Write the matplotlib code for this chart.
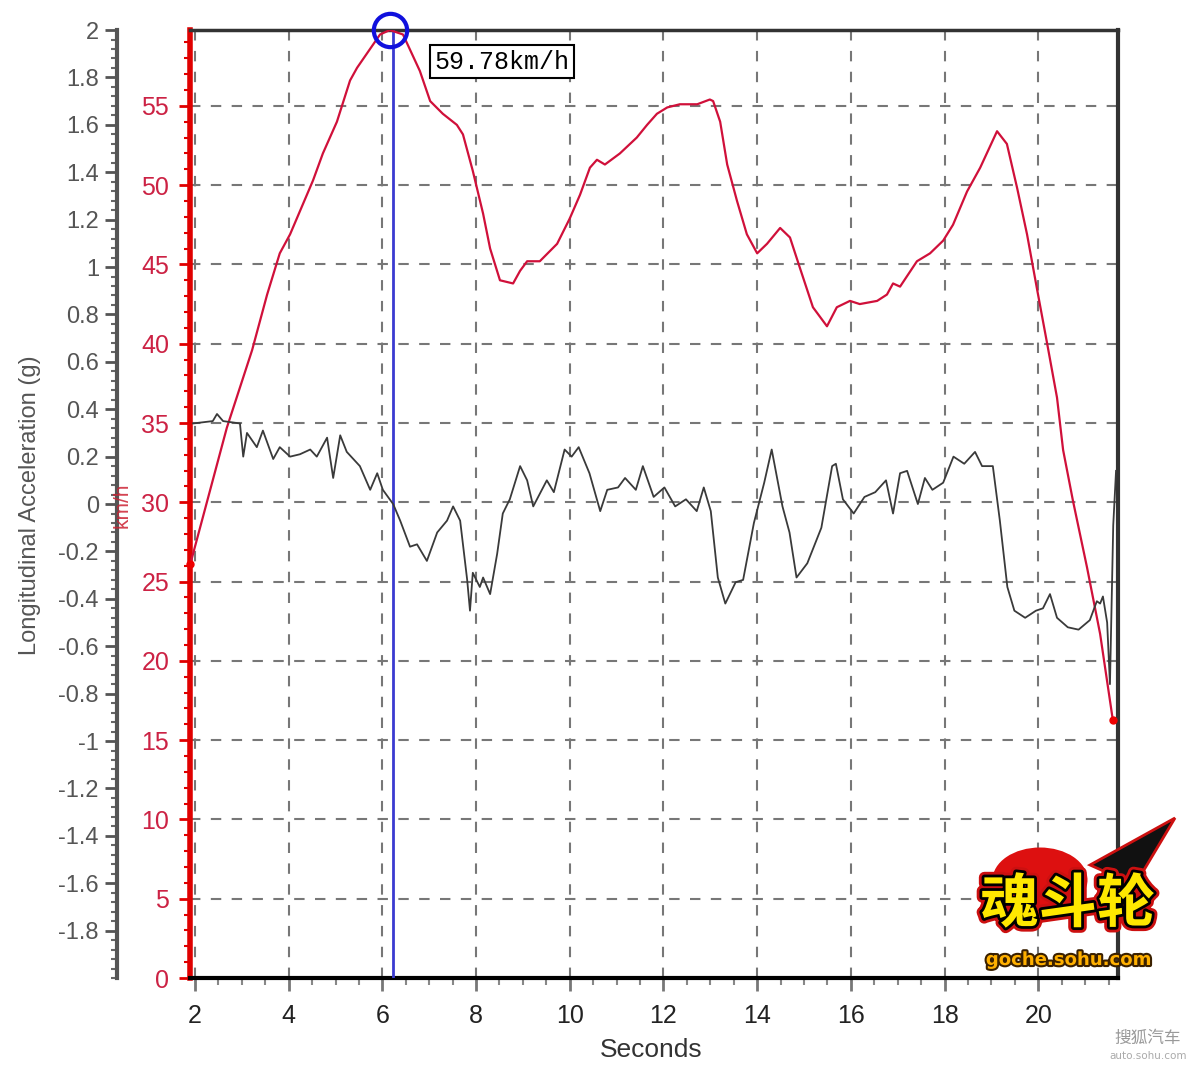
import numpy as np
import matplotlib
matplotlib.use("Agg")
import matplotlib.pyplot as plt
import matplotlib.patheffects as pe
from matplotlib.ticker import MultipleLocator, FixedLocator, FuncFormatter
from matplotlib.patches import Ellipse, Polygon

plt.rcParams['font.family'] = ['Liberation Sans', 'DejaVu Sans']
plt.rcParams['axes.unicode_minus'] = False

# speed trace (km/h)
speed_t = [1.90, 2.68, 3.22, 3.54, 3.81, 4.03, 4.52, 4.73, 5.03, 5.31,
           5.46, 5.74, 5.95, 6.16, 6.44, 6.80, 7.02, 7.29, 7.59, 7.72,
           7.93, 8.15, 8.30, 8.51, 8.79, 8.94, 9.09, 9.36, 9.73, 10.00,
           10.22, 10.43, 10.58, 10.75, 11.07, 11.43, 11.65, 11.86, 12.08, 12.35,
           12.72, 12.99, 13.06, 13.21, 13.36, 13.57, 13.78, 14.00, 14.21, 14.49,
           14.70, 14.91, 15.19, 15.49, 15.70, 15.98, 16.19, 16.56, 16.77, 16.90,
           17.05, 17.41, 17.69, 17.97, 18.18, 18.48, 18.76, 19.12, 19.33, 19.55,
           19.76, 19.97, 20.19, 20.40, 20.53, 20.74, 21.04, 21.32, 21.59]
speed_kmh = [26.1, 34.7, 39.6, 43.1, 45.7, 46.9, 50.3, 52.0, 54.0, 56.6,
             57.4, 58.6, 59.5, 59.78, 59.5, 57.2, 55.3, 54.5, 53.8, 53.2,
             50.9, 48.2, 46.0, 44.0, 43.8, 44.6, 45.2, 45.2, 46.3, 47.9,
             49.4, 51.1, 51.6, 51.3, 52.0, 53.0, 53.8, 54.5, 54.9, 55.1,
             55.1, 55.4, 55.3, 54.0, 51.3, 49.0, 46.9, 45.7, 46.3, 47.3,
             46.7, 44.8, 42.3, 41.1, 42.3, 42.7, 42.5, 42.7, 43.1, 43.8,
             43.6, 45.2, 45.7, 46.5, 47.5, 49.6, 51.1, 53.4, 52.6, 49.8,
             46.9, 43.5, 40.0, 36.6, 33.3, 30.1, 25.9, 21.7, 16.3]

# longitudinal acceleration (g), black trace
accel_t = [1.96, 2.38, 2.47, 2.60, 2.96, 3.03, 3.11, 3.32, 3.45, 3.67,
           3.81, 4.03, 4.24, 4.46, 4.60, 4.82, 4.95, 5.10, 5.24, 5.52,
           5.74, 5.89, 6.01, 6.23, 6.38, 6.59, 6.74, 6.95, 7.17, 7.38,
           7.51, 7.66, 7.81, 7.87, 7.93, 8.08, 8.15, 8.30, 8.45, 8.57,
           8.72, 8.94, 9.09, 9.22, 9.51, 9.66, 9.89, 10.04, 10.19, 10.42,
           10.65, 10.80, 11.03, 11.18, 11.41, 11.56, 11.79, 12.02, 12.25, 12.48,
           12.71, 12.86, 13.01, 13.16, 13.32, 13.54, 13.70, 13.93, 14.15, 14.31,
           14.54, 14.69, 14.84, 15.07, 15.37, 15.60, 15.68, 15.83, 16.06, 16.29,
           16.52, 16.75, 16.90, 17.05, 17.20, 17.43, 17.58, 17.74, 17.97, 18.19,
           18.42, 18.65, 18.80, 19.03, 19.18, 19.34, 19.49, 19.72, 19.95, 20.10,
           20.25, 20.40, 20.63, 20.86, 21.10, 21.25, 21.32, 21.38, 21.47, 21.53,
           21.60, 21.66]
accel_g = [0.34, 0.35, 0.38, 0.35, 0.34, 0.20, 0.30, 0.24, 0.31, 0.19,
           0.24, 0.20, 0.21, 0.23, 0.20, 0.28, 0.11, 0.29, 0.22, 0.16,
           0.06, 0.13, 0.06, 0.00, -0.07, -0.18, -0.17, -0.24, -0.12, -0.07,
           -0.01, -0.07, -0.32, -0.45, -0.29, -0.35, -0.31, -0.38, -0.21, -0.04,
           0.02, 0.16, 0.10, -0.01, 0.10, 0.05, 0.23, 0.20, 0.24, 0.13,
           -0.03, 0.06, 0.07, 0.11, 0.06, 0.16, 0.03, 0.07, -0.01, 0.02,
           -0.03, 0.07, -0.03, -0.31, -0.42, -0.33, -0.32, -0.08, 0.09, 0.23,
           -0.01, -0.12, -0.31, -0.25, -0.10, 0.16, 0.17, 0.02, -0.04, 0.03,
           0.05, 0.10, -0.04, 0.13, 0.14, 0.00, 0.11, 0.06, 0.09, 0.20,
           0.17, 0.22, 0.16, 0.16, -0.07, -0.35, -0.45, -0.48, -0.45, -0.44,
           -0.38, -0.48, -0.52, -0.53, -0.49, -0.41, -0.42, -0.39, -0.50, -0.76,
           -0.09, 0.14]

x_ticks = [2, 4, 6, 8, 10, 12, 14, 16, 18, 20]
g_ticks = [-1.8, -1.6, -1.4, -1.2, -1, -0.8, -0.6, -0.4, -0.2, 0,
           0.2, 0.4, 0.6, 0.8, 1, 1.2, 1.4, 1.6, 1.8, 2]
cursor_t = 6.23

RED = '#d0103a'
GRAY = '#555555'

fig = plt.figure(figsize=(12, 10.77), dpi=100)
ax = fig.add_axes([0.1583, 0.0919, 0.7733, 0.8802])
axg = ax.twinx()

t_min, t_max = 1.893, 21.70
v_peak = max(speed_kmh)
t_peak = speed_t[speed_kmh.index(v_peak)]

# --- speed axis (red, inner) ---
ax.set_xlim(t_min, t_max)
ax.set_ylim(0, v_peak)
ax.plot(speed_t, speed_kmh, color=RED, lw=1.6, zorder=4)
ax.plot([speed_t[0], speed_t[-1]], [speed_kmh[0], speed_kmh[-1]], 'o',
        color='#ee0000', ms=5, zorder=5, clip_on=False)

ax.yaxis.set_major_locator(MultipleLocator(5))
ax.yaxis.set_minor_locator(MultipleLocator(1))
ax.tick_params(axis='y', which='major', colors='#e00000', labelcolor='#cc2244',
               labelsize=18, length=8, width=2, pad=7)
ax.tick_params(axis='y', which='minor', colors='#e00000', length=4, width=1.5)

ax.xaxis.set_major_locator(FixedLocator(x_ticks))
ax.xaxis.set_minor_locator(MultipleLocator(0.5))
ax.tick_params(axis='x', which='major', colors='#777777', labelcolor='#222222',
               labelsize=18, length=9, width=2, pad=10)
ax.tick_params(axis='x', which='minor', colors='#888888', length=5, width=1.5)

ax.grid(True, which='major', color='#777777', linestyle=(0, (5, 5)), lw=1.5)
ax.set_axisbelow(True)

ax.spines['left'].set_color('#e00000')
ax.spines['left'].set_linewidth(4)
ax.spines['bottom'].set_color('black')
ax.spines['bottom'].set_linewidth(3)
ax.spines['top'].set_color('#333333')
ax.spines['top'].set_linewidth(2.5)
ax.spines['right'].set_color('#333333')
ax.spines['right'].set_linewidth(3)

# cursor line + peak marker
ax.axvline(cursor_t, color='#3a3ad0', lw=2, zorder=3)
ax.plot([t_peak], [v_peak], 'o', mfc='none', mec='#1010dd', mew=3, ms=24,
        clip_on=False, zorder=6)
ax.text(7.12, 58.55, f"{v_peak:.2f}km/h", family=['Liberation Mono', 'DejaVu Sans Mono'],
        fontsize=18, color='black', ha='left', va='top', zorder=7,
        bbox=dict(boxstyle='square,pad=0.18', fc='white', ec='black', lw=1.5))

# --- acceleration axis (gray, outer) ---
axg.set_ylim(-2, 2)
axg.plot(accel_t, accel_g, color='#3a3a3a', lw=1.3, zorder=3)
axg.yaxis.set_ticks_position('left')
axg.yaxis.set_label_position('left')
axg.spines['left'].set_position(('axes', -73 / 928))
axg.spines['left'].set_visible(True)
axg.spines['left'].set_color('#555555')
axg.spines['left'].set_linewidth(3)
for s in ['right', 'top', 'bottom']:
    axg.spines[s].set_visible(False)
axg.yaxis.set_major_locator(FixedLocator(g_ticks))
axg.yaxis.set_minor_locator(MultipleLocator(0.04))
axg.yaxis.set_major_formatter(FuncFormatter(lambda v, p: f"{v:g}"))
axg.tick_params(axis='y', which='major', colors='#555555', labelcolor=GRAY,
                labelsize=17, length=9, width=2, pad=4)
axg.tick_params(axis='y', which='minor', colors='#666666', length=4, width=1.5)

# axis titles
fig.text(30 / 1200, 1 - 505 / 1077, "Longitudinal Acceleration (g)", rotation=90,
         ha='center', va='center', fontsize=17, color=GRAY)
fig.text(122 / 1200, 1 - 505 / 1077, "km/h", rotation=90, ha='center', va='center',
         fontsize=15, color='#cc2233', alpha=0.85)
fig.text(651 / 1200, 1 - 1050 / 1077, "Seconds", ha='center', va='center',
         fontsize=19, color='#333333')

# watermark logo
fig.patches.append(Ellipse((1040 / 1200, 1 - 880 / 1077), 95 / 1200, 65 / 1077,
                           transform=fig.transFigure, fc='#dd1010', ec='none', zorder=8))
fig.patches.append(Polygon([(1090 / 1200, 1 - 865 / 1077), (1175 / 1200, 1 - 818 / 1077),
                            (1135 / 1200, 1 - 885 / 1077)], closed=True,
                           transform=fig.transFigure, fc='#111111', ec='#cc1010',
                           lw=2, zorder=8))
fig.text(1068 / 1200, 1 - 905 / 1077, "魂斗轮", ha='center', va='center', fontsize=42,
         fontweight='bold', color='#ffe800', zorder=9,
         family=['Noto Sans CJK SC', 'DejaVu Sans'],
         path_effects=[pe.Stroke(linewidth=8, foreground='#cc1010'),
                       pe.Stroke(linewidth=4, foreground='black'), pe.Normal()])
fig.text(1068 / 1200, 1 - 960 / 1077, "goche.sohu.com", ha='center', va='center',
         fontsize=13, fontweight='bold', color='#ffb000', zorder=9,
         family=['DejaVu Sans'],
         path_effects=[pe.Stroke(linewidth=3, foreground='#3a2000'), pe.Normal()])
fig.text(1148 / 1200, 1 - 1038 / 1077, "搜狐汽车", ha='center', va='center', fontsize=12,
         color='#999999', family=['Noto Sans CJK SC', 'DejaVu Sans'])
fig.text(1148 / 1200, 1 - 1056 / 1077, "auto.sohu.com", ha='center', va='center',
         fontsize=7.5, color='#aaaaaa', family=['DejaVu Sans'])

fig.savefig("out.png", dpi=100, facecolor='white')
